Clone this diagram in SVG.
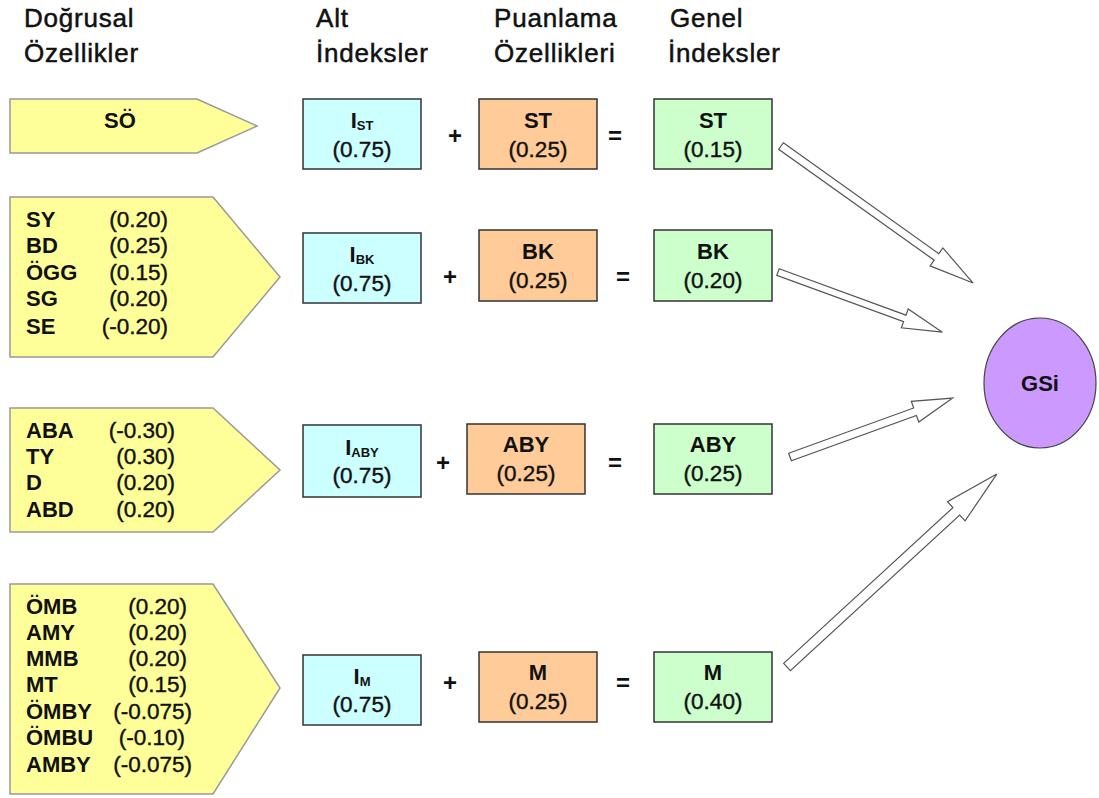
<svg xmlns="http://www.w3.org/2000/svg" width="1099" height="798" viewBox="0 0 1099 798">
<style>
text{font-family:"Liberation Sans",Arial,sans-serif;fill:#111}
.hdr{font-size:26px;letter-spacing:0.8px;stroke:#111;stroke-width:0.5}
.yel{fill:#FFFF99;stroke:#999;stroke-width:1.5}
.lb{font-size:22px;font-weight:bold}
.lv{font-size:22.5px;stroke:#111;stroke-width:0.4}
.box{stroke:#333;stroke-width:1.5}
.blue{fill:#CCFFFF}.orange{fill:#FFCC99}.green{fill:#CCFFCC}
.bn{font-size:22px;font-weight:bold}
.bv{font-size:22.5px;stroke:#111;stroke-width:0.4}
.sub{font-size:13px;font-weight:bold;stroke:none}
.op{font-size:24px;font-weight:bold}
.blk{fill:#fff;stroke:#555;stroke-width:1.2}
</style>
<g id="headers">
<text class="hdr" x="24" y="27">Doğrusal</text>
<text class="hdr" x="24" y="62">Özellikler</text>
<text class="hdr" x="316" y="27">Alt</text>
<text class="hdr" x="316" y="62">İndeksler</text>
<text class="hdr" x="494" y="27">Puanlama</text>
<text class="hdr" x="494" y="62">Özellikleri</text>
<text class="hdr" x="670" y="27">Genel</text>
<text class="hdr" x="668" y="62">İndeksler</text>
</g>
<g id="feat1">
<polygon class="yel" points="10,99 197,99 257,126 197,153 10,153"/>
<text class="lb" x="120" y="128" text-anchor="middle">SÖ</text>
</g>
<g id="feat2">
<polygon class="yel" points="10,197 213,197 280,277 213,357 10,357"/>
<text class="lb" x="26" y="227">SY</text><text class="lv" x="168" y="227" text-anchor="end">(0.20)</text>
<text class="lb" x="26" y="253">BD</text><text class="lv" x="168" y="253" text-anchor="end">(0.25)</text>
<text class="lb" x="26" y="280">ÖGG</text><text class="lv" x="168" y="280" text-anchor="end">(0.15)</text>
<text class="lb" x="26" y="306">SG</text><text class="lv" x="168" y="306" text-anchor="end">(0.20)</text>
<text class="lb" x="26" y="334">SE</text><text class="lv" x="168" y="334" text-anchor="end">(-0.20)</text>
</g>
<g id="feat3">
<polygon class="yel" points="10,408 213,408 280,470 213,532 10,532"/>
<text class="lb" x="26" y="438">ABA</text><text class="lv" x="175" y="438" text-anchor="end">(-0.30)</text>
<text class="lb" x="26" y="464">TY</text><text class="lv" x="175" y="464" text-anchor="end">(0.30)</text>
<text class="lb" x="26" y="490">D</text><text class="lv" x="175" y="490" text-anchor="end">(0.20)</text>
<text class="lb" x="26" y="517">ABD</text><text class="lv" x="175" y="517" text-anchor="end">(0.20)</text>
</g>
<g id="feat4">
<polygon class="yel" points="10,584 213,584 280,688 213,794 10,794"/>
<text class="lb" x="26" y="614">ÖMB</text><text class="lv" x="187" y="614" text-anchor="end">(0.20)</text>
<text class="lb" x="26" y="640">AMY</text><text class="lv" x="187" y="640" text-anchor="end">(0.20)</text>
<text class="lb" x="26" y="666">MMB</text><text class="lv" x="187" y="666" text-anchor="end">(0.20)</text>
<text class="lb" x="26" y="692">MT</text><text class="lv" x="187" y="692" text-anchor="end">(0.15)</text>
<text class="lb" x="26" y="719">ÖMBY</text><text class="lv" x="192" y="719" text-anchor="end">(-0.075)</text>
<text class="lb" x="26" y="745">ÖMBU</text><text class="lv" x="185" y="745" text-anchor="end">(-0.10)</text>
<text class="lb" x="26" y="772">AMBY</text><text class="lv" x="192" y="772" text-anchor="end">(-0.075)</text>
</g>
<g id="sub1"><rect class="box blue" x="303" y="99" width="118" height="70"/>
<text class="bn" x="362" y="128" text-anchor="middle">I<tspan class="sub" dy="2">ST</tspan></text>
<text class="bv" x="362" y="157" text-anchor="middle">(0.75)</text></g>
<g id="sub2"><rect class="box blue" x="303" y="233" width="118" height="70"/>
<text class="bn" x="362" y="262" text-anchor="middle">I<tspan class="sub" dy="2">BK</tspan></text>
<text class="bv" x="362" y="291" text-anchor="middle">(0.75)</text></g>
<g id="sub3"><rect class="box blue" x="303" y="425" width="118" height="72"/>
<text class="bn" x="362" y="455" text-anchor="middle">I<tspan class="sub" dy="2">ABY</tspan></text>
<text class="bv" x="362" y="483" text-anchor="middle">(0.75)</text></g>
<g id="sub4"><rect class="box blue" x="303" y="655" width="118" height="70"/>
<text class="bn" x="362" y="684" text-anchor="middle">I<tspan class="sub" dy="2">M</tspan></text>
<text class="bv" x="362" y="712" text-anchor="middle">(0.75)</text></g>
<g id="score1"><rect class="box orange" x="479" y="99" width="118" height="70"/>
<text class="bn" x="538" y="128" text-anchor="middle">ST</text>
<text class="bv" x="538" y="157" text-anchor="middle">(0.25)</text></g>
<g id="score2"><rect class="box orange" x="479" y="230" width="118" height="71"/>
<text class="bn" x="538" y="259" text-anchor="middle">BK</text>
<text class="bv" x="538" y="288" text-anchor="middle">(0.25)</text></g>
<g id="score3"><rect class="box orange" x="467" y="424" width="118" height="70"/>
<text class="bn" x="526" y="452" text-anchor="middle">ABY</text>
<text class="bv" x="526" y="481" text-anchor="middle">(0.25)</text></g>
<g id="score4"><rect class="box orange" x="479" y="652" width="118" height="70"/>
<text class="bn" x="538" y="680" text-anchor="middle">M</text>
<text class="bv" x="538" y="709" text-anchor="middle">(0.25)</text></g>
<g id="gen1"><rect class="box green" x="654" y="99" width="118" height="70"/>
<text class="bn" x="713" y="128" text-anchor="middle">ST</text>
<text class="bv" x="713" y="157" text-anchor="middle">(0.15)</text></g>
<g id="gen2"><rect class="box green" x="654" y="230" width="118" height="71"/>
<text class="bn" x="713" y="259" text-anchor="middle">BK</text>
<text class="bv" x="713" y="288" text-anchor="middle">(0.20)</text></g>
<g id="gen3"><rect class="box green" x="654" y="424" width="118" height="70"/>
<text class="bn" x="713" y="452" text-anchor="middle">ABY</text>
<text class="bv" x="713" y="481" text-anchor="middle">(0.25)</text></g>
<g id="gen4"><rect class="box green" x="654" y="652" width="118" height="70"/>
<text class="bn" x="713" y="680" text-anchor="middle">M</text>
<text class="bv" x="713" y="709" text-anchor="middle">(0.40)</text></g>
<g id="operators">
<text class="op" x="455" y="144" text-anchor="middle">+</text>
<text class="op" x="615" y="144" text-anchor="middle">=</text>
<text class="op" x="450" y="285" text-anchor="middle">+</text>
<text class="op" x="623" y="285" text-anchor="middle">=</text>
<text class="op" x="443" y="471" text-anchor="middle">+</text>
<text class="op" x="615" y="471" text-anchor="middle">=</text>
<text class="op" x="450" y="691" text-anchor="middle">+</text>
<text class="op" x="623" y="691" text-anchor="middle">=</text>
</g>
<g id="gsi">
<ellipse cx="1040" cy="383" rx="56" ry="65" fill="#CC99FF" stroke="#444" stroke-width="1.2"/>
<text class="bn" x="1040" y="391" text-anchor="middle">GSi</text>
</g>
<g id="connectors">
<polygon class="blk" transform="translate(781,146) rotate(35.5)" points="0,-4 191,-4 191,-11 236,0 191,11 191,4 0,4"/>
<polygon class="blk" transform="translate(778,272) rotate(20.1)" points="0,-3.5 135,-3.5 135,-10 175,0 135,10 135,3.5 0,3.5"/>
<polygon class="blk" transform="translate(790,457) rotate(-19.9)" points="0,-4 133,-4 133,-11 173,0 133,11 133,4 0,4"/>
<polygon class="blk" transform="translate(787,667) rotate(-42.6)" points="0,-5 230,-5 230,-13 285,0 230,13 230,5 0,5"/>
</g>
</svg>
